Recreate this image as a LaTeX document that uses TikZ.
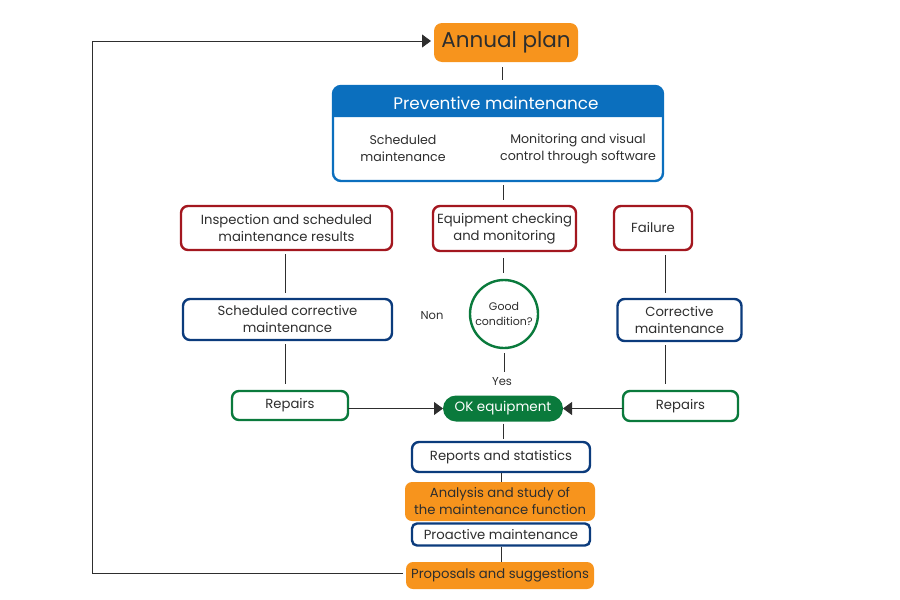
\documentclass[tikz,border=0pt]{standalone}
\usepackage{fontspec}
\setmainfont{Poppins}
\usetikzlibrary{arrows.meta,calc}
\definecolor{aporange}{HTML}{F7941D}
\definecolor{pmblue}{HTML}{0B6FBE}
\definecolor{dkred}{HTML}{A3171F}
\definecolor{navy}{HTML}{0B3B7C}
\definecolor{dkgreen}{HTML}{0A7A3C}
\definecolor{txt}{HTML}{2E2E2E}
\begin{document}
\begin{tikzpicture}[x=1pt,y=-1pt,
  every node/.style={inner sep=0pt,outer sep=0pt,text=txt},
  basebox/.style={rectangle,rounded corners=7pt,line width=2.4pt,align=center,fill=white},
  bodyfont/.style={font=\fontsize{13.2}{17}\selectfont},
  redbox/.style={basebox,draw=dkred,bodyfont},
  navybox/.style={basebox,draw=navy,bodyfont},
  greenbox/.style={basebox,draw=dkgreen,bodyfont},
  orangebox/.style={rectangle,rounded corners=7pt,fill=aporange,align=center,bodyfont},
  lbl/.style={font=\fontsize{11.5}{13}\selectfont,align=center},
  conn/.style={draw=txt,line width=0.9pt},
  tip/.style={-{Triangle[length=9pt,width=13pt]}}
]
\useasboundingbox (0,0) rectangle (900,600);

% Annual plan
\node[orangebox,minimum width=144,minimum height=39,rounded corners=8pt,font=\fontsize{21.5}{24}\selectfont] (ap) at (506,42.5) {Annual plan};

% Preventive maintenance box
\node[basebox,draw=pmblue,minimum width=330,minimum height=95,rounded corners=8pt] (pm) at (498,133.5) {};
\coordinate (hb) at (0,117);
\fill[pmblue] (pm.west |- hb) {[rounded corners=8pt] -- (pm.north west) -- (pm.north east)} -- (pm.east |- hb) -- cycle;
\node[font=\fontsize{16.8}{19}\selectfont,text=white] (pmh) at (496,103.5) {Preventive maintenance};
\node[lbl,font=\fontsize{12.6}{17}\selectfont] (pm1) at (403,148.5) {Scheduled\\maintenance};
\node[lbl,font=\fontsize{12.6}{17}\selectfont] (pm2) at (578,149) {Monitoring and visual\\control through software};

% second row
\node[redbox,minimum width=211,minimum height=44] (insp) at (286.5,228) {Inspection and scheduled\\maintenance results};
\node[redbox,minimum width=143,minimum height=45] (eqc) at (504.5,228.5) {Equipment checking\\and monitoring};
\node[redbox,minimum width=78,minimum height=44] (fail) at (653,228) {Failure};

% third row
\node[navybox,minimum width=209,minimum height=41] (sc) at (287.5,319.5) {Scheduled corrective\\maintenance};
\node[circle,draw=dkgreen,line width=2.4pt,minimum size=68,fill=white,align=center,font=\fontsize{11}{15}\selectfont] (gc) at (504,314) {Good\\condition?};
\node[lbl] (non) at (432,315.5) {Non};
\node[navybox,minimum width=124,minimum height=42] (cm) at (679.5,320) {Corrective\\maintenance};

% fourth row
\node[greenbox,minimum width=116,minimum height=29] (rep1) at (290,405.5) {Repairs};
\node[greenbox,minimum width=115,minimum height=30] (rep2) at (680.5,406) {Repairs};
\node[lbl] (yes) at (502,381.5) {Yes};
\node[rectangle,rounded corners=13pt,fill=dkgreen,minimum width=120,minimum height=26,text=white,font=\fontsize{13.5}{15}\selectfont] (ok) at (503,408.5) {OK equipment};

% bottom column
\node[navybox,minimum width=178,minimum height=30] (rs) at (501,457) {Reports and statistics};
\node[orangebox,minimum width=190,minimum height=39] (an) at (500,501.5) {Analysis and study of\\the maintenance function};
\node[navybox,minimum width=178,minimum height=22,rounded corners=5pt] (pro) at (501,534.5) {Proactive maintenance};
\node[orangebox,minimum width=188,minimum height=27] (prop) at (500,575.5) {Proposals and suggestions};

% connector x positions
\coordinate (xa) at (502,0);
\coordinate (xb) at (503,0);
\coordinate (xg) at (504,0);
\coordinate (xl) at (285,0);
\coordinate (xr) at (665,0);
\coordinate (xc) at (501,0);

\draw[conn,shorten <=5pt,shorten >=6pt] (ap.south -| xa) -- (pm.north -| xa);
\draw[conn,shorten <=4pt,shorten >=6pt] (pm.south -| xb) -- (eqc.north -| xb);
\draw[conn,shorten <=4pt,shorten >=6pt] (insp.south -| xl) -- (sc.north -| xl);
\draw[conn,shorten <=7pt,shorten >=7pt] (eqc.south -| xb) -- (gc.north -| xb);
\draw[conn,shorten <=5pt,shorten >=6pt] (fail.south -| xr) -- (cm.north -| xr);
\draw[conn,shorten <=5pt,shorten >=5pt] (gc.south -| xg) -- (yes.north -| xg);
\draw[conn,shorten <=4pt,shorten >=7pt] (sc.south -| xl) -- (rep1.north -| xl);
\draw[conn,shorten <=4pt,shorten >=7pt] (cm.south -| xr) -- (rep2.north -| xr);
\draw[conn,tip] (rep1.east |- ok.west) -- (ok.west);
\draw[conn,tip] (rep2.west |- ok.east) -- (ok.east);
\draw[conn,shorten <=2pt,shorten >=3pt] (ok.south -| xb) -- (rs.north -| xb);
\draw[conn,shorten <=1pt] (rs.south -| xc) -- (an.north -| xc);
\draw[conn,shorten <=1pt] (pro.south -| xc) -- (prop.north -| xc);

% feedback loop
\coordinate (fbB) at (92,573);
\coordinate (fbT) at (92,41);
\draw[conn,tip,shorten <=3pt,shorten >=3pt] (prop.west |- fbB) -- (fbB) -- (fbT) -- (ap.west |- fbT);
\end{tikzpicture}
\end{document}
